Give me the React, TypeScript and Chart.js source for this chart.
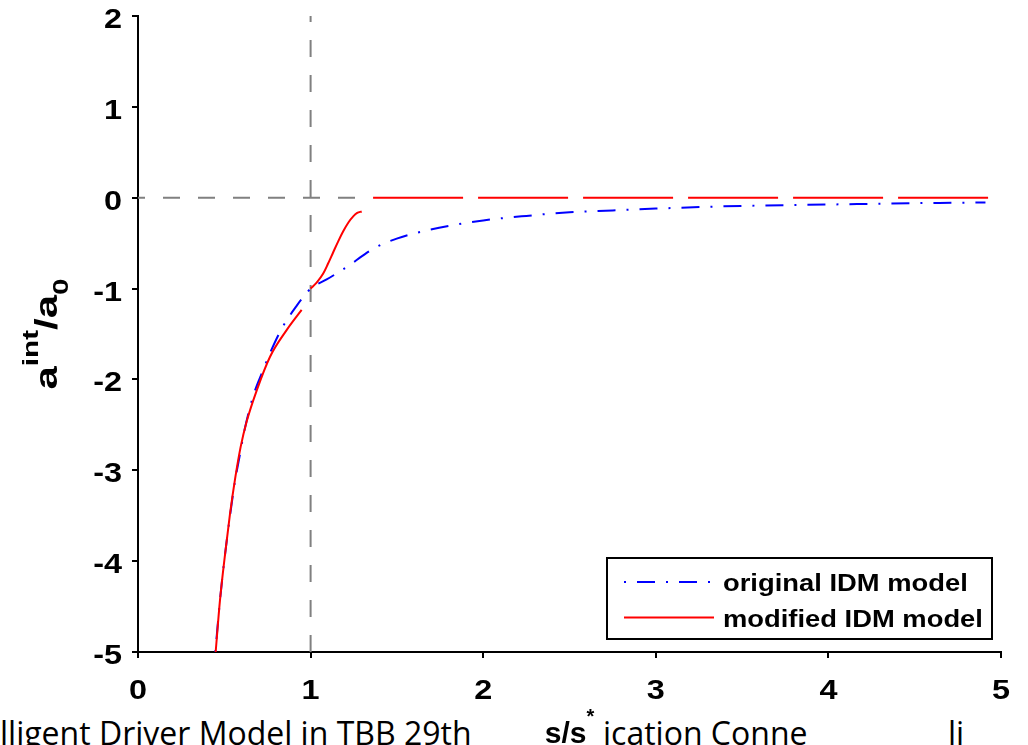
import React, { useEffect, useRef } from "react";
import { Chart, registerables } from "chart.js";

Chart.register(...registerables);

// ---- data ----
const xTickValues = [0, 1, 2, 3, 4, 5];
const xTickLabels = ["0", "1", "2", "3", "4", "5"];
const yTickValues = [-5, -4, -3, -2, -1, 0, 1, 2];
const yTickLabels = ["-5", "-4", "-3", "-2", "-1", "0", "1", "2"];

const originalX = [0.448, 0.475, 0.504, 0.533, 0.562, 0.595, 0.61, 0.668, 0.72, 0.765, 0.833, 0.919, 0.981, 1.0, 1.093, 1.17, 1.228, 1.3, 1.373, 1.499, 1.65, 1.8, 2.0, 2.25, 2.5, 2.75, 3.0, 3.5, 4.0, 4.5, 4.91];
const originalY = [-5.0, -4.43, -3.93, -3.5, -3.12, -2.78, -2.62, -2.18, -1.92, -1.71, -1.44, -1.19, -1.04, -1.0, -0.9, -0.81, -0.74, -0.64, -0.55, -0.45, -0.37, -0.31, -0.25, -0.2, -0.16, -0.14, -0.12, -0.09, -0.075, -0.06, -0.052];

const modifiedX = [0.45, 0.475, 0.504, 0.533, 0.562, 0.595, 0.63, 0.688, 0.765, 0.862, 0.948, 0.975, 1.0, 1.035, 1.073, 1.1, 1.131, 1.16, 1.189, 1.22, 1.247, 1.27, 1.296, 1.33, 1.362, 4.936];
const modifiedY: (number | null)[] = [-5.0, -4.43, -3.93, -3.48, -3.1, -2.74, -2.46, -2.12, -1.75, -1.455, -1.235, null, -1.0, -0.935, -0.835, -0.73, -0.6, -0.48, -0.37, -0.27, -0.205, -0.168, -0.151, null, 0, 0];

const refVerticalX = [1, 1];
const refVerticalY = [2, -5];
const refZeroX = [0, 1.3];
const refZeroY = [0, 0];

const legendLabels = ["original IDM model", "modified IDM model"];
const captionLeft = "lligent Driver Model in TBB 29th";
const captionRight = "ication Conne";
const captionRight2 = "li";

// ---- styling ----
const FONT = '"Liberation Sans", Arial, Helvetica, sans-serif';
const BLUE = "#0000ff";
const RED = "#ff0000";
const GRAY = "#808080";
const BLUE_DASH = [2, 11, 18, 11];
const ZERO_DASH = [90, 15];
const GRAY_DASH = [17, 18];
const TICK_SX = 1.2;
const LEGEND_SX = 1.14;
const YTITLE_SX = 1.35;

function drawText(ctx: CanvasRenderingContext2D, text: string, x: number, y: number, font: string, sx: number, align: "left" | "center" | "right") {
  ctx.save();
  ctx.font = font;
  const w = ctx.measureText(text).width * sx;
  let left = x;
  if (align === "center") left = x - w / 2;
  else if (align === "right") left = x - w;
  ctx.translate(left, y);
  ctx.scale(sx, 1);
  ctx.textAlign = "left";
  ctx.textBaseline = "alphabetic";
  ctx.fillText(text, 0, 0);
  ctx.restore();
  return w;
}

const textPlugin = {
  id: "customText",
  afterDraw(chart: any) {
    const ctx: CanvasRenderingContext2D = chart.ctx;
    const xs = chart.scales.x;
    const ys = chart.scales.y;
    const area = chart.chartArea;
    ctx.save();
    ctx.fillStyle = "#000";
    const tickFont = `bold 27px ${FONT}`;
    yTickValues.forEach((v, i) => {
      const py = ys.getPixelForValue(v);
      drawText(ctx, yTickLabels[i], area.left - 16, py + 12, tickFont, TICK_SX, "right");
    });
    xTickValues.forEach((v, i) => {
      const px = xs.getPixelForValue(v);
      drawText(ctx, xTickLabels[i], px, area.bottom + 47, tickFont, TICK_SX, "center");
    });

    // x title s/s*
    const mainFont = `bold 30px ${FONT}`;
    const supFont = `bold 20px ${FONT}`;
    ctx.font = mainFont;
    const w1 = ctx.measureText("s/s").width;
    ctx.font = supFont;
    const w2 = ctx.measureText("*").width;
    const cx = (area.left + area.right) / 2;
    const startX = cx - (w1 + w2) / 2;
    drawText(ctx, "s/s", startX, 743, mainFont, 1, "left");
    drawText(ctx, "*", startX + w1, 723, supFont, 1, "left");

    // y title a^int / a_0 rotated
    const yMain = `bold 31px ${FONT}`;
    const ySub = `bold 22px ${FONT}`;
    ctx.font = yMain;
    const wa = ctx.measureText("a").width * YTITLE_SX;
    const wsl = ctx.measureText("/a").width * YTITLE_SX;
    ctx.font = ySub;
    const wint = ctx.measureText("int").width * YTITLE_SX;
    const w0 = ctx.measureText("0").width * YTITLE_SX;
    const total = wa + wint + wsl + w0;
    const cy = (area.top + area.bottom) / 2;
    ctx.save();
    ctx.translate(57, cy + total / 2);
    ctx.rotate(-Math.PI / 2);
    let u = 0;
    drawText(ctx, "a", u, 0, yMain, YTITLE_SX, "left");
    u += wa;
    drawText(ctx, "int", u, -19, ySub, YTITLE_SX, "left");
    u += wint;
    drawText(ctx, "/a", u, 0, yMain, YTITLE_SX, "left");
    u += wsl;
    drawText(ctx, "0", u, 11, ySub, YTITLE_SX, "left");
    ctx.restore();

    // legend
    const lx = 607, ly = 558, lw = 385, lh = 81;
    ctx.fillStyle = "#fff";
    ctx.fillRect(lx, ly, lw, lh);
    ctx.strokeStyle = "#000";
    ctx.lineWidth = 2;
    ctx.strokeRect(lx, ly, lw, lh);
    ctx.lineWidth = 2;
    ctx.strokeStyle = BLUE;
    ctx.setLineDash(BLUE_DASH);
    ctx.beginPath();
    ctx.moveTo(624, 582);
    ctx.lineTo(713, 582);
    ctx.stroke();
    ctx.strokeStyle = RED;
    ctx.setLineDash([]);
    ctx.beginPath();
    ctx.moveTo(624, 617.5);
    ctx.lineTo(714, 617.5);
    ctx.stroke();
    ctx.fillStyle = "#000";
    const legFont = `bold 24px ${FONT}`;
    drawText(ctx, legendLabels[0], 723, 591, legFont, LEGEND_SX, "left");
    drawText(ctx, legendLabels[1], 723, 627, legFont, LEGEND_SX, "left");
    ctx.restore();
  },
};

export default function App() {
  const canvasRef = useRef<HTMLCanvasElement | null>(null);

  useEffect(() => {
    const canvas = canvasRef.current;
    if (!canvas) return;
    const toPts = (xs: number[], ys: (number | null)[]) => xs.map((x, i) => ({ x, y: ys[i] }));
    const chart = new Chart(canvas, {
      type: "line",
      data: {
        datasets: [
          {
            label: legendLabels[1],
            data: toPts(modifiedX, modifiedY) as any,
            borderColor: RED,
            borderWidth: 2,
            pointRadius: 0,
            fill: false,
            spanGaps: false,
            cubicInterpolationMode: "monotone",
            segment: {
              borderDash: (c: any) => (c.p0.parsed.y === 0 && c.p1.parsed.y === 0 ? ZERO_DASH : undefined),
            },
          } as any,
          {
            label: legendLabels[0],
            data: toPts(originalX, originalY) as any,
            borderColor: BLUE,
            borderWidth: 2,
            borderDash: BLUE_DASH,
            pointRadius: 0,
            fill: false,
            cubicInterpolationMode: "monotone",
          } as any,
          {
            label: "ref-x",
            data: toPts(refVerticalX, refVerticalY) as any,
            borderColor: GRAY,
            borderWidth: 2,
            borderDash: GRAY_DASH,
            borderDashOffset: 11,
            pointRadius: 0,
            fill: false,
          } as any,
          {
            label: "ref-y",
            data: toPts(refZeroX, refZeroY) as any,
            borderColor: GRAY,
            borderWidth: 2,
            borderDash: GRAY_DASH,
            borderDashOffset: 10,
            pointRadius: 0,
            fill: false,
          } as any,
        ],
      },
      options: {
        responsive: false,
        animation: false,
        devicePixelRatio: 1,
        layout: { padding: { left: 0, top: 16, right: 27, bottom: 0 } },
        plugins: { legend: { display: false }, tooltip: { enabled: false }, title: { display: false } },
        scales: {
          x: {
            type: "linear",
            min: 0,
            max: 5,
            afterBuildTicks: (s: any) => {
              s.ticks = xTickValues.map((v) => ({ value: v }));
            },
            afterFit: (s: any) => {
              s.height = 93;
            },
            ticks: { display: false },
            grid: { drawOnChartArea: false, drawTicks: true, tickLength: 6, color: "#000", lineWidth: 2 },
            border: { display: true, color: "#000", width: 2 },
          },
          y: {
            type: "linear",
            min: -5,
            max: 2,
            afterBuildTicks: (s: any) => {
              s.ticks = yTickValues.map((v) => ({ value: v }));
            },
            afterFit: (s: any) => {
              s.width = 138;
            },
            ticks: { display: false },
            grid: { drawOnChartArea: false, drawTicks: true, tickLength: 6, color: "#000", lineWidth: 2 },
            border: { display: true, color: "#000", width: 2 },
          },
        },
      } as any,
      plugins: [textPlugin as any],
    });
    return () => chart.destroy();
  }, []);

  const capStyle: React.CSSProperties = { position: "absolute", top: 717, fontFamily: '"Open Sans", sans-serif', fontSize: 32, lineHeight: 1, whiteSpace: "nowrap", color: "#000" };

  return (
    <div style={{ position: "fixed", left: 0, top: 0, width: 1028, height: 745, overflow: "hidden", background: "#fff" }}>
      <div style={{ ...capStyle, left: 0 }}>{captionLeft}</div>
      <div style={{ ...capStyle, left: 603 }}>{captionRight}</div>
      <div style={{ ...capStyle, left: 948 }}>{captionRight2}</div>
      <canvas ref={canvasRef} width={1028} height={745} style={{ position: "absolute", left: 0, top: 0, display: "block" }} />
    </div>
  );
}
